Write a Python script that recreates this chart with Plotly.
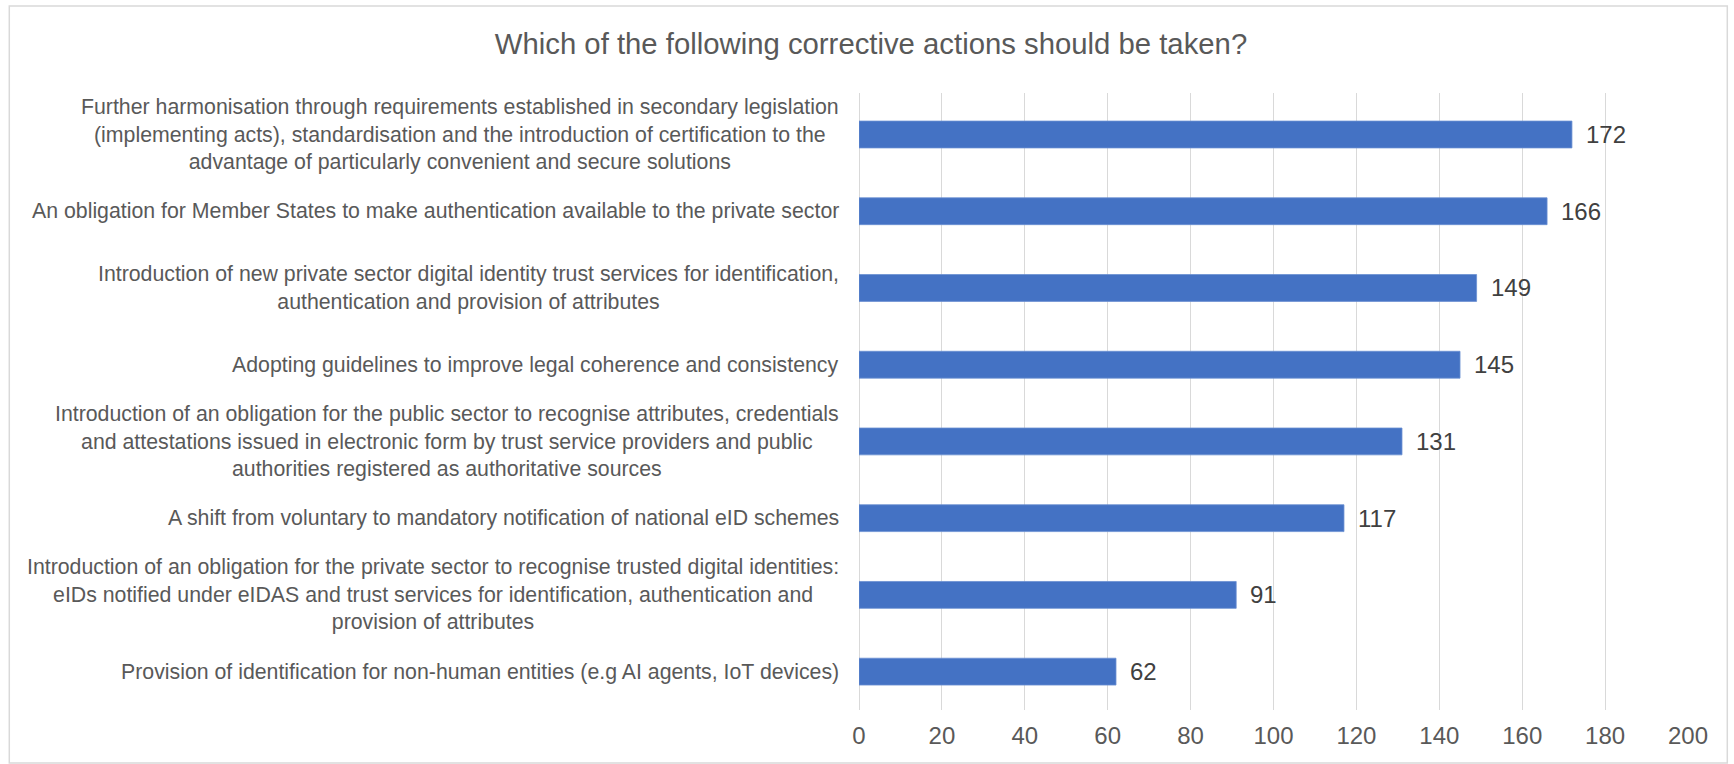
import plotly.graph_objects as go

# Survey responses: corrective actions that should be taken
categories = [
    "Further harmonisation through requirements established in secondary legislation<br>"
    "(implementing acts), standardisation and the introduction of certification to the<br>"
    "advantage of particularly convenient and secure solutions",
    "An obligation for Member States to make authentication available to the private sector",
    "Introduction of new private sector digital identity trust services for identification,<br>"
    "authentication and provision of attributes",
    "Adopting guidelines to improve legal coherence and consistency",
    "Introduction of an obligation for the public sector to recognise attributes, credentials<br>"
    "and attestations issued in electronic form by trust service providers and public<br>"
    "authorities registered as authoritative sources",
    "A shift from voluntary to mandatory notification of national eID schemes",
    "Introduction of an obligation for the private sector to recognise trusted digital identities:<br>"
    "eIDs notified under eIDAS and trust services for identification, authentication and<br>"
    "provision of attributes",
    "Provision of identification for non-human entities (e.g AI agents, IoT devices)",
]
responses = [172, 166, 149, 145, 131, 117, 91, 62]
x_ticks = [0, 20, 40, 60, 80, 100, 120, 140, 160, 180, 200]

FONT = "Liberation Sans, Arial, sans-serif"
W, H = 1734, 764
L, R, T, B = 858.7, 46.3, 93, 54
plot_w = W - L - R
plot_h = H - T - B

fig = go.Figure()
fig.add_trace(go.Bar(
    x=responses,
    y=categories,
    orientation="h",
    marker=dict(color="#4472C4", line=dict(color="#6a8fd2", width=0.8)),
    hoverinfo="x+y",
))

annotations = []
# category labels, centred lines, right-aligned against the value axis
for cat in categories:
    annotations.append(dict(
        x=0, xref="paper", y=cat, yref="y",
        xanchor="right", yanchor="middle", align="center",
        xshift=-18, text=cat, showarrow=False,
        font=dict(family=FONT, size=21.3, color="#595959"),
    ))
# value labels at the end of each bar
for cat, v in zip(categories, responses):
    annotations.append(dict(
        x=v, xref="x", y=cat, yref="y",
        xanchor="left", yanchor="middle",
        xshift=12, text=str(v), showarrow=False,
        font=dict(family=FONT, size=24, color="#404040"),
    ))

# thin light frame around the whole chart
def px_to_paper_x(px):
    return (px - L) / plot_w

def px_to_paper_y(py):
    return 1 - (py - T) / plot_h

fig.update_layout(
    width=W, height=H,
    margin=dict(l=L, r=R, t=T, b=B, autoexpand=False),
    paper_bgcolor="white",
    plot_bgcolor="white",
    showlegend=False,
    bargap=0.65,
    title=dict(
        text="Which of the following corrective actions should be taken?",
        x=871 / W, xref="container", xanchor="center",
        y=1 - 44 / H, yref="container", yanchor="middle",
        font=dict(family=FONT, size=29.3, color="#595959"),
    ),
    xaxis=dict(
        range=[0, 200],
        tickvals=x_ticks,
        ticktext=[str(t) for t in x_ticks],
        showgrid=True, gridcolor="#d9d9d9", gridwidth=1.3,
        zeroline=True, zerolinecolor="#d9d9d9", zerolinewidth=1.3,
        showline=False, ticks="", ticklabelstandoff=9,
        tickfont=dict(family=FONT, size=24, color="#595959"),
        fixedrange=True,
    ),
    yaxis=dict(
        categoryorder="array", categoryarray=categories,
        autorange="reversed",
        showticklabels=False, showgrid=False, zeroline=False,
        showline=False, ticks="", fixedrange=True,
    ),
    annotations=annotations,
    shapes=[dict(
        type="rect", xref="paper", yref="paper",
        x0=px_to_paper_x(9), x1=px_to_paper_x(1727),
        y0=px_to_paper_y(763), y1=px_to_paper_y(6),
        line=dict(color="#d9d9d9", width=1.5),
        fillcolor="rgba(0,0,0,0)", layer="below",
    )],
)

fig.write_html("out.html")
